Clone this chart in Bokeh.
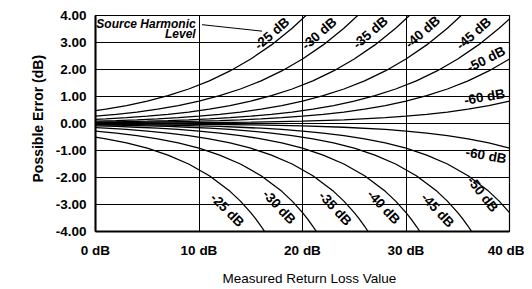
import math
from bokeh.plotting import figure
from bokeh.models import Range1d, Label, FixedTicker, ColumnDataSource, Title
from bokeh.embed import file_html
from bokeh.resources import INLINE
from bokeh.core.properties import value

# ---- tick values / labels ----
x_ticks = [0, 10, 20, 30, 40]
x_tick_labels = ["0 dB", "10 dB", "20 dB", "30 dB", "40 dB"]
y_ticks = [-4, -3, -2, -1, 0, 1, 2, 3, 4]
y_tick_labels = ["-4.00", "-3.00", "-2.00", "-1.00", "0.00", "1.00", "2.00", "3.00", "4.00"]

# ---- curves (measured return loss dB -> possible error dB) ----
rl_25_up = [0, 1, 3, 5, 7, 9, 11, 13, 15, 17, 19, 20.5]
err_25_up = [0.475, 0.531, 0.664, 0.828, 1.030, 1.278, 1.580, 1.946, 2.387, 2.911, 3.529, 4.059]
rl_25_lo = [0, 1, 3, 5, 7, 9, 11, 13, 14, 15, 15.5, 16, 16.5]
err_25_lo = [-0.503, -0.566, -0.719, -0.915, -1.169, -1.499, -1.933, -2.513, -2.875, -3.302, -3.543, -3.806, -4.094]

rl_30_up = [0, 2, 4, 6, 8, 10, 12, 14, 16, 18, 20, 22, 24, 25.5]
err_30_up = [0.270, 0.339, 0.425, 0.531, 0.664, 0.828, 1.030, 1.278, 1.580, 1.946, 2.387, 2.911, 3.529, 4.059]
rl_30_lo = [0, 2, 4, 6, 8, 10, 12, 14, 16, 18, 19, 20, 20.5, 21, 21.5]
err_30_lo = [-0.279, -0.353, -0.447, -0.566, -0.719, -0.915, -1.169, -1.499, -1.933, -2.513, -2.875, -3.302, -3.543, -3.806, -4.094]

rl_35_up = [0, 1, 3, 5, 7, 9, 11, 13, 15, 17, 19, 21, 23, 25, 27, 29, 30.5]
err_35_up = [0.153, 0.172, 0.215, 0.270, 0.339, 0.425, 0.531, 0.664, 0.828, 1.030, 1.278, 1.580, 1.946, 2.387, 2.911, 3.529, 4.059]
rl_35_lo = [0, 1, 3, 5, 7, 9, 11, 13, 15, 17, 19, 21, 23, 24, 25, 25.5, 26, 26.5]
err_35_lo = [-0.156, -0.175, -0.221, -0.279, -0.353, -0.447, -0.566, -0.719, -0.915, -1.169, -1.499, -1.933, -2.513, -2.875, -3.302, -3.543, -3.806, -4.094]

rl_40_up = [0, 2, 4, 6, 8, 10, 12, 14, 16, 18, 20, 22, 24, 26, 28, 30, 32, 34, 35.5]
err_40_up = [0.086, 0.109, 0.137, 0.172, 0.215, 0.270, 0.339, 0.425, 0.531, 0.664, 0.828, 1.030, 1.278, 1.580, 1.946, 2.387, 2.911, 3.529, 4.059]
rl_40_lo = [0, 2, 4, 6, 8, 10, 12, 14, 16, 18, 20, 22, 24, 26, 28, 29, 30, 30.5, 31, 31.5]
err_40_lo = [-0.087, -0.110, -0.139, -0.175, -0.221, -0.279, -0.353, -0.447, -0.566, -0.719, -0.915, -1.169, -1.499, -1.933, -2.513, -2.875, -3.302, -3.543, -3.806, -4.094]

rl_45_up = [0, 1, 3, 5, 7, 9, 11, 13, 15, 17, 19, 21, 23, 25, 27, 29, 31, 33, 35, 37, 39, 40]
err_45_up = [0.049, 0.055, 0.069, 0.086, 0.109, 0.137, 0.172, 0.215, 0.270, 0.339, 0.425, 0.531, 0.664, 0.828, 1.030, 1.278, 1.580, 1.946, 2.387, 2.911, 3.529, 3.875]
rl_45_lo = [0, 1, 3, 5, 7, 9, 11, 13, 15, 17, 19, 21, 23, 25, 27, 29, 31, 33, 34, 35, 35.5, 36, 36.5]
err_45_lo = [-0.049, -0.055, -0.069, -0.087, -0.110, -0.139, -0.175, -0.221, -0.279, -0.353, -0.447, -0.566, -0.719, -0.915, -1.169, -1.499, -1.933, -2.513, -2.875, -3.302, -3.543, -3.806, -4.094]

rl_50_up = [0, 2, 4, 6, 8, 10, 12, 14, 16, 18, 20, 22, 24, 26, 28, 30, 32, 34, 36, 38, 40]
err_50_up = [0.027, 0.035, 0.043, 0.055, 0.069, 0.086, 0.109, 0.137, 0.172, 0.215, 0.270, 0.339, 0.425, 0.531, 0.664, 0.828, 1.030, 1.278, 1.580, 1.946, 2.387]
rl_50_lo = [0, 2, 4, 6, 8, 10, 12, 14, 16, 18, 20, 22, 24, 26, 28, 30, 32, 34, 36, 38, 39, 40]
err_50_lo = [-0.028, -0.035, -0.044, -0.055, -0.069, -0.087, -0.110, -0.139, -0.175, -0.221, -0.279, -0.353, -0.447, -0.566, -0.719, -0.915, -1.169, -1.499, -1.933, -2.513, -2.875, -3.302]

rl_60_up = [0, 5, 10, 15, 20, 24, 28, 30, 32, 34, 36, 38, 40]
err_60_up = [0.009, 0.015, 0.027, 0.049, 0.086, 0.137, 0.215, 0.270, 0.339, 0.425, 0.531, 0.664, 0.828]
rl_60_lo = [0, 5, 10, 15, 20, 24, 28, 30, 32, 34, 36, 38, 40]
err_60_lo = [-0.009, -0.015, -0.028, -0.049, -0.087, -0.139, -0.221, -0.279, -0.353, -0.447, -0.566, -0.719, -0.915]

# ---- curve labels ----
label_text = ["-25 dB", "-30 dB", "-35 dB", "-40 dB", "-45 dB", "-50 dB", "-60 dB",
              "-60 dB", "-50 dB", "-45 dB", "-40 dB", "-35 dB", "-30 dB", "-25 dB"]
label_x = [17.03, 21.61, 26.55, 31.61, 36.54, 37.74, 37.58,
           37.74, 37.41, 33.06, 27.83, 23.16, 17.74, 12.74]
label_y = [3.33, 3.33, 3.37, 3.39, 3.33, 2.38, 0.985,
           -1.185, -2.62, -3.21, -3.09, -3.15, -3.09, -3.21]
label_deg = [41, 41, 41, 41, 41, 27, 10,
             -10, -52, -47, -47, -47, -47, -45]

FONT = "Liberation Sans"

p = figure(width=524, height=294, output_backend="svg", toolbar_location=None,
           x_range=Range1d(0, 40), y_range=Range1d(-4, 4),
           min_border_left=95, min_border_right=15, min_border_top=15, min_border_bottom=63)
p.background_fill_color = "white"
p.border_fill_color = "white"
p.outline_line_color = "black"
p.outline_line_width = 1.2

p.xaxis.ticker = FixedTicker(ticks=x_ticks)
p.yaxis.ticker = FixedTicker(ticks=y_ticks)
p.xaxis.major_label_overrides = {t: l for t, l in zip(x_ticks, x_tick_labels)}
p.yaxis.major_label_overrides = {t: l for t, l in zip(y_ticks, y_tick_labels)}
for ax in (p.xaxis, p.yaxis):
    ax.major_tick_line_color = None
    ax.minor_tick_line_color = None
    ax.major_tick_out = 0
    ax.major_tick_in = 0
    ax.axis_line_color = "black"
    ax.axis_line_width = 2
    ax.major_label_text_font = FONT
    ax.major_label_text_font_style = "bold"
    ax.major_label_text_font_size = "13.5px"
    ax.major_label_text_color = "black"
p.xaxis.major_label_standoff = 11
p.yaxis.major_label_standoff = 9

for g in (p.xgrid, p.ygrid):
    g.grid_line_color = "black"
    g.grid_line_width = 1
    g.grid_line_alpha = 1.0

curves = [
    (rl_25_up, err_25_up), (rl_25_lo, err_25_lo),
    (rl_30_up, err_30_up), (rl_30_lo, err_30_lo),
    (rl_35_up, err_35_up), (rl_35_lo, err_35_lo),
    (rl_40_up, err_40_up), (rl_40_lo, err_40_lo),
    (rl_45_up, err_45_up), (rl_45_lo, err_45_lo),
    (rl_50_up, err_50_up), (rl_50_lo, err_50_lo),
    (rl_60_up, err_60_up), (rl_60_lo, err_60_lo),
]
for xs, ys in curves:
    p.line(xs, ys, line_color="black", line_width=1.3)

src = ColumnDataSource(dict(x=label_x, y=label_y, text=label_text,
                            angle=[math.radians(a) for a in label_deg]))
p.text(x="x", y="y", text="text", angle="angle", source=src,
       text_font=value(FONT), text_font_style="bold", text_font_size="13.5px",
       text_align="center", text_baseline="middle", text_color="black")

# Source harmonic level note
p.add_layout(Label(x=9.68, y=3.69, text="Source Harmonic", text_align="right",
                   text_baseline="middle", text_font=FONT, text_font_style="bold italic",
                   text_font_size="12px", text_color="black"))
p.add_layout(Label(x=9.68, y=3.31, text="Level", text_align="right",
                   text_baseline="middle", text_font=FONT, text_font_style="bold italic",
                   text_font_size="12px", text_color="black"))
p.line([10.29, 16.10], [3.66, 3.42], line_color="black", line_width=1)

# axis titles
p.add_layout(Title(text="Possible Error (dB)", align="left", offset=49, standoff=14,
                   text_font=FONT, text_font_style="bold", text_font_size="14px",
                   text_color="black"), "left")
p.add_layout(Title(text="Measured Return Loss Value", align="left", offset=127, standoff=17,
                   text_font=FONT, text_font_style="normal", text_font_size="13.5px",
                   text_color="black"), "below")

open("out.html", "w").write(file_html(p, INLINE))
